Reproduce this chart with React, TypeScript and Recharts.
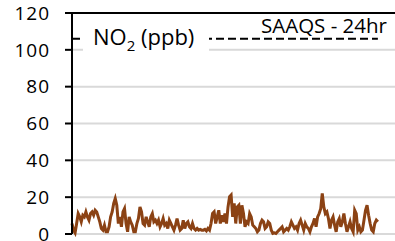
import React from 'react';
import { LineChart, Line, XAxis, YAxis, CartesianGrid, ReferenceLine } from 'recharts';

// NO2 readings (ppb), read left to right off the reference
const no2Values = [
  5.7, 2.1, 0.6, 5.7, 11.1, 9.3, 6.6, 10.2, 9.3, 12.0, 9.3, 7.5, 11.1, 12.0, 10.2, 12.9,
  12.0, 9.3, 6.6, 3.0, 2.1, 4.8, 1.2, 1.2, 3.9, 9.3, 12.0, 16.6, 19.3, 15.6, 5.7, 9.3,
  3.9, 12.0, 13.8, 5.7, 1.2, 9.3, 6.6, 4.8, 1.2, 1.2, 5.7, 8.4, 14.7, 12.0, 5.7, 4.8,
  9.3, 6.6, 3.9, 9.3, 11.1, 6.6, 7.5, 5.7, 7.5, 3.9, 5.7, 8.4, 4.8, 5.7, 3.0, 7.5,
  5.7, 3.9, 2.1, 4.8, 8.4, 4.8, 2.1, 3.0, 7.5, 3.0, 5.7, 6.6, 3.9, 3.0, 5.7, 3.0,
  2.1, 3.0, 2.1, 2.5, 2.1, 2.1, 2.5, 1.7, 3.0, 2.1, 5.7, 11.1, 12.0, 5.7, 9.3, 12.9,
  5.7, 10.2, 6.6, 11.1, 5.7, 14.7, 20.2, 21.1, 9.3, 16.6, 5.7, 14.7, 15.6, 5.7, 15.6, 11.1,
  3.9, 6.6, 5.7, 11.1, 9.3, 4.8, 3.9, 3.0, 1.2, 2.1, 5.7, 7.5, 6.6, 3.0, 3.9, 6.6,
  5.7, 2.1, 0.3, 0.6, 0.3, 1.2, 2.1, 3.0, 3.9, 1.2, 2.1, 3.0, 2.1, 3.9, 6.6, 4.8,
  3.0, 3.9, 2.1, 5.7, 7.5, 4.8, 2.1, 5.7, 3.9, 3.0, 1.2, 3.9, 5.7, 8.4, 3.9, 9.3,
  11.1, 13.8, 22.0, 14.7, 11.1, 12.0, 8.4, 3.0, 7.5, 9.3, 4.8, 1.2, 6.6, 8.4, 3.9, 6.6,
  11.1, 5.7, 1.2, 3.9, 6.6, 3.0, 1.2, 12.9, 11.1, 2.1, 3.9, 1.2, 2.1, 7.5, 12.9, 15.6,
  10.2, 5.7, 2.1, 1.2, 5.7, 7.5, 6.6,
];

const saaqs24hr = 106;
const yTicks = [0, 20, 40, 60, 80, 100, 120];
const seriesLabel = 'NO';
const seriesSub = '2';
const seriesUnit = ' (ppb)';
const limitLabel = 'SAAQS - 24hr';

const data = no2Values.map((v, i) => ({ i, no2: v, saaqs: saaqs24hr }));
// plot area runs a little past the last reading
const xMax = (no2Values.length - 1) * 1.056;

const font = "'Open Sans', sans-serif";

const App: React.FC = () => {
  return (
    <div style={{ position: 'absolute', left: 0, top: 0, width: 395, height: 241, background: '#fff' }}>
      <LineChart width={395} height={241} data={data} margin={{ top: 13, right: 0, bottom: 7, left: 0 }}>
        <CartesianGrid vertical={false} stroke="#d9d9d9" strokeWidth={2} />
        <XAxis
          dataKey="i"
          type="number"
          domain={[0, xMax]}
          tick={false}
          tickLine={false}
          height={0}
          axisLine={{ stroke: '#000', strokeWidth: 2 }}
        />
        <YAxis
          domain={[0, 120]}
          ticks={yTicks}
          interval={0}
          width={72}
          tickSize={7}
          tickMargin={15}
          axisLine={{ stroke: '#000', strokeWidth: 2 }}
          tickLine={{ stroke: '#000', strokeWidth: 2 }}
          tick={{ fill: '#000', fontSize: 19, fontFamily: font, letterSpacing: 1 }}
        />
        <ReferenceLine y={120} stroke="#000" strokeWidth={2} />
        <Line
          type="linear"
          dataKey="saaqs"
          stroke="#000"
          strokeWidth={2}
          strokeDasharray="8 4"
          dot={false}
          isAnimationActive={false}
        />
        <Line
          type="linear"
          dataKey="no2"
          stroke="#8b4214"
          strokeWidth={3}
          dot={false}
          isAnimationActive={false}
        />
      </LineChart>
      <svg width={395} height={241} style={{ position: 'absolute', left: 0, top: 0, pointerEvents: 'none' }}>
        <rect x={83} y={22} width={126} height={31} fill="#fff" />
        <text x={93} y={45} fontFamily={font} fontSize={22} fill="#000">
          {seriesLabel}
          <tspan dy={6} fontSize={15}>{seriesSub}</tspan>
          <tspan dy={-6}>{seriesUnit}</tspan>
        </text>
        <text x={261} y={33} fontFamily={font} fontSize={20.5} fill="#000">
          {limitLabel}
        </text>
      </svg>
    </div>
  );
};

export default App;
